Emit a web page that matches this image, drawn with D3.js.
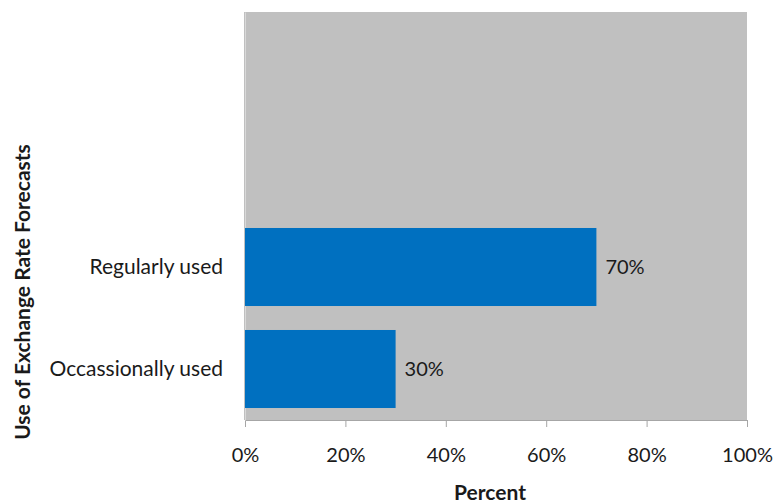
<!DOCTYPE html>
<html>
<head>
<meta charset="utf-8">
<script src="https://cdn.jsdelivr.net/npm/d3@7"></script>
<style>
  body { margin: 0; background: #fff; }
  svg text { font-family: Lato, "Open Sans", sans-serif; fill: #1a1a1a; }
</style>
</head>
<body>
<svg id="chart" width="777" height="504"></svg>
<script>
// categories, top to bottom (two empty slots sit above the bars)
const categories = ["blank1", "blank2", "Regularly used", "Occassionally used"];
const values = [null, null, 70, 30];
const xTicks = [0, 20, 40, 60, 80, 100];

const margin = { top: 12, right: 30, bottom: 84, left: 245 };
const width = 777 - margin.left - margin.right;
const height = 504 - margin.top - margin.bottom;

const svg = d3.select("#chart")
  .append("g")
  .attr("transform", `translate(${margin.left}, ${margin.top})`);

// plot area
svg.append("rect")
  .attr("x", -1)
  .attr("width", width + 1)
  .attr("height", height)
  .attr("fill", "#c0c0c0");

const x = d3.scaleLinear().domain([0, 100]).range([0, width]);
const y = d3.scaleBand()
  .domain(categories)
  .range([0, height])
  .paddingInner(0.235)
  .paddingOuter(0.1175);

// x axis
const xAxis = svg.append("g")
  .attr("transform", `translate(0, ${height})`)
  .call(d3.axisBottom(x).tickValues(xTicks).tickFormat((d) => d + "%").tickSize(7).tickPadding(21));
xAxis.select(".domain").attr("stroke", "#a6a6a6");
xAxis.selectAll(".tick line").attr("stroke", "#a6a6a6");
xAxis.selectAll("text").attr("font-size", 20).attr("fill", "#1a1a1a");

// y axis (labels only)
const yAxis = svg.append("g")
  .call(d3.axisLeft(y).tickSize(0).tickPadding(22)
    .tickFormat((d) => (d.startsWith("blank") ? "" : d)));
yAxis.select(".domain").attr("stroke", "#d9d9d9");
yAxis.selectAll("text").attr("font-size", 21).attr("fill", "#1a1a1a");

const rows = categories.map((c, i) => ({ cat: c, value: values[i] }))
  .filter((d) => d.value != null);

// bars
svg.selectAll(".bar")
  .data(rows)
  .enter()
  .append("rect")
  .attr("class", "bar")
  .attr("x", 0)
  .attr("y", (d) => y(d.cat))
  .attr("width", (d) => x(d.value))
  .attr("height", y.bandwidth())
  .attr("fill", "#0070c0");

// value labels
svg.selectAll(".label")
  .data(rows)
  .enter()
  .append("text")
  .attr("x", (d) => x(d.value) + 9)
  .attr("y", (d) => y(d.cat) + y.bandwidth() / 2)
  .attr("dy", "0.35em")
  .attr("font-size", 20)
  .text((d) => d.value + "%");

// axis titles
svg.append("text")
  .attr("x", width / 2 - 6)
  .attr("y", height + 80)
  .attr("text-anchor", "middle")
  .attr("font-size", 21)
  .attr("font-weight", "bold")
  .text("Percent");

svg.append("text")
  .attr("transform", `translate(${-margin.left + 30}, 280) rotate(-90)`)
  .attr("text-anchor", "middle")
  .attr("font-size", 21)
  .attr("font-weight", "bold")
  .text("Use of Exchange Rate Forecasts");
</script>
</body>
</html>
